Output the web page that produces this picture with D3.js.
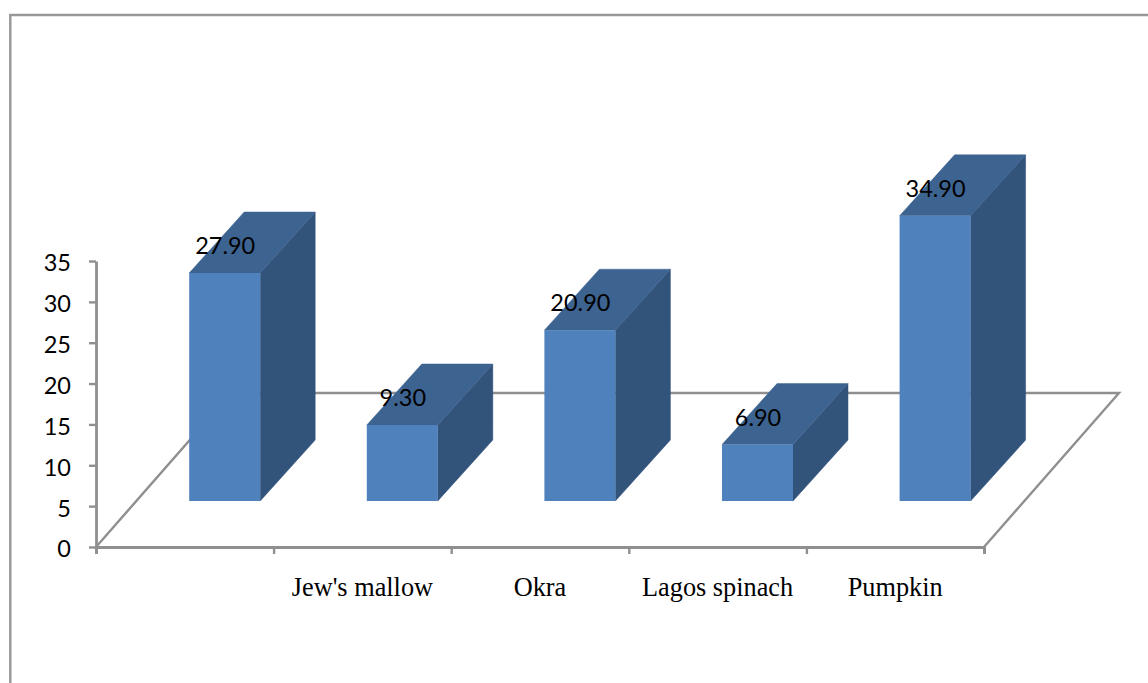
<!DOCTYPE html>
<html>
<head>
<meta charset="utf-8">
<script src="https://cdn.jsdelivr.net/npm/d3@7"></script>
<style>
  html, body { margin: 0; padding: 0; background: #fff; }
  svg { display: block; }
  .tick text { fill: #000; }
</style>
</head>
<body>
<svg id="chart" width="1148" height="683"></svg>
<script>
// Chart content
const categories = ["", "Jew's mallow", "Okra", "Lagos spinach", "Pumpkin"];
const values = [27.9, 9.3, 20.9, 6.9, 34.9];
const valueTicks = [0, 5, 10, 15, 20, 25, 30, 35];

// Layout
const plotLeft = 96, plotRight = 984, plotBase = 547, plotTop = 261;
const floorDx = 135, floorDy = -154;  // oblique offset of the chart floor
const barDx = 55, barDy = -61;        // oblique offset of each bar's depth
const barLift = 46;                   // bars stand this far back from the front edge
const barShift = 39.9;                // sideways drift of the bars from that lift
const barWidth = 71;

const axisColor = "#8f8f8f";
const frontColor = "#4f81bd", topColor = "#3d6390", sideColor = "#32537a";

const svg = d3.select("#chart");
const defs = svg.append("defs");
const shade = defs.append("filter").attr("id", "frameShade")
  .attr("x", "-2%").attr("y", "-2%").attr("width", "104%").attr("height", "104%");
shade.append("feGaussianBlur").attr("stdDeviation", 1.6);

const x = d3.scaleBand().domain(d3.range(categories.length)).range([plotLeft, plotRight]);
const y = d3.scaleLinear().domain([0, 35]).range([plotBase, plotTop]);

// Page frame: top and left rules with a soft shadow on the left
svg.append("line").attr("x1", 7.5).attr("x2", 7.5).attr("y1", 17).attr("y2", 683)
  .attr("stroke", "#a8a8a8").attr("stroke-width", 4).attr("filter", "url(#frameShade)");
svg.append("path").attr("d", "M10.3,683V15H1148")
  .attr("fill", "none").attr("stroke", "#979797").attr("stroke-width", 2.4);

// Chart floor
const floorPts = [[plotLeft, plotBase], [plotLeft + floorDx, plotBase + floorDy],
                  [plotRight + floorDx, plotBase + floorDy], [plotRight, plotBase]];
svg.append("path").attr("d", d3.line()(floorPts))
  .attr("fill", "none").attr("stroke", axisColor).attr("stroke-width", 2.4);

// Value axis
const yAxis = svg.append("g").attr("transform", `translate(${plotLeft},0)`)
  .call(d3.axisLeft(y).tickValues(valueTicks).tickSize(7).tickPadding(18).tickSizeOuter(0));
yAxis.selectAll("line").attr("stroke", axisColor).attr("stroke-width", 2.4);
yAxis.select(".domain").attr("stroke", axisColor).attr("stroke-width", 2.8);
yAxis.selectAll("text").attr("font-family", "Lato, 'Open Sans', sans-serif").attr("font-size", 23.5)
  .attr("dy", "0.42em");

// Category axis, with a tick on each band boundary
const xEdges = d3.scaleLinear().domain([0, categories.length]).range([plotLeft, plotRight]);
const xAxis = svg.append("g").attr("transform", `translate(0,${plotBase})`)
  .call(d3.axisBottom(xEdges).tickValues(d3.range(categories.length + 1)).tickSize(7).tickFormat(""));
xAxis.selectAll("line").attr("stroke", axisColor).attr("stroke-width", 2.4);
xAxis.select(".domain").attr("stroke", axisColor).attr("stroke-width", 2.8);

svg.append("g").selectAll("text").data(categories).join("text")
  .attr("x", (d, i) => x(i) + x.bandwidth() / 2)
  .attr("y", 596)
  .attr("text-anchor", "middle")
  .attr("font-family", "'Liberation Serif', serif")
  .attr("font-size", 26.3)
  .attr("fill", "#000")
  .text(d => d);

// Bars: front, top and side faces
const barHeight = v => plotBase - y(v);
const bars = svg.append("g").selectAll("g").data(values).join("g");
const left = (v, i) => x(i) + (x.bandwidth() - barWidth) / 2 + barShift;
const base = plotBase - barLift;

bars.append("path").attr("fill", sideColor).attr("stroke", sideColor).attr("stroke-width", 0.5)
  .attr("d", (v, i) => {
    const r = left(v, i) + barWidth, t = base - barHeight(v);
    return d3.line()([[r, base], [r, t], [r + barDx, t + barDy], [r + barDx, base + barDy]]) + "Z";
  });
bars.append("path").attr("fill", topColor).attr("stroke", topColor).attr("stroke-width", 0.5)
  .attr("d", (v, i) => {
    const l = left(v, i), t = base - barHeight(v);
    return d3.line()([[l, t], [l + barWidth, t], [l + barWidth + barDx, t + barDy], [l + barDx, t + barDy]]) + "Z";
  });
bars.append("rect").attr("fill", frontColor)
  .attr("x", left)
  .attr("y", v => base - barHeight(v))
  .attr("width", barWidth)
  .attr("height", barHeight);

// Value labels, over the top face of each bar
bars.append("text")
  .attr("x", (v, i) => left(v, i) + 36)
  .attr("y", v => base - barHeight(v) - 19)
  .attr("text-anchor", "middle")
  .attr("font-family", "Lato, 'Open Sans', sans-serif")
  .attr("font-size", 23.5)
  .attr("fill", "#000")
  .text(v => v.toFixed(2));
</script>
</body>
</html>
